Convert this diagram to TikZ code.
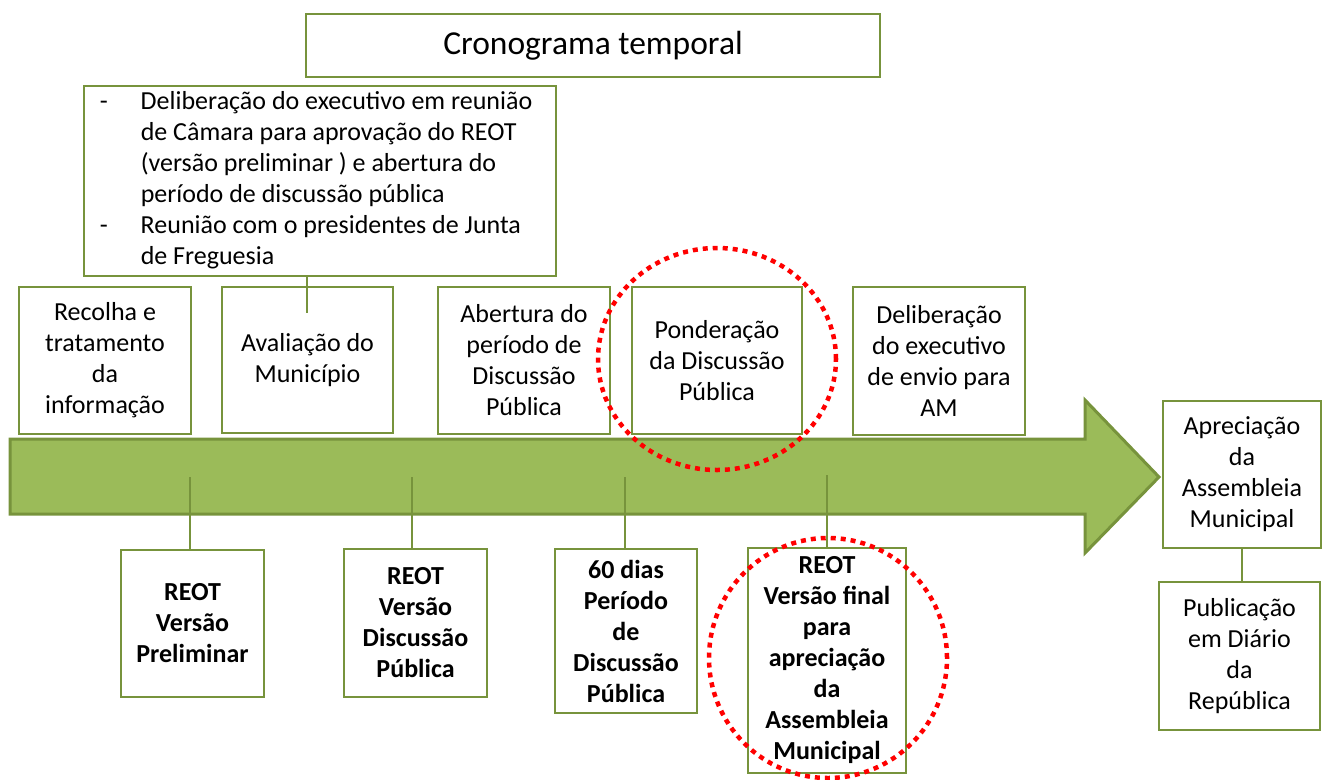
\documentclass[tikz,border=0pt]{standalone}
\usepackage{fontspec}
\setmainfont{Carlito}
\definecolor{gfill}{HTML}{9BBB59}
\definecolor{gline}{HTML}{77933C}
\tikzset{
  box/.style={draw=gline, line width=2.6pt, fill=white, inner sep=0pt, align=center, font=\fontsize{26}{31}\selectfont},
  bbox/.style={box, font=\fontsize{26}{31}\selectfont\bfseries},
  conn/.style={draw=gline, line width=2.6pt},
  reddot/.style={draw=red, line width=4.5pt, dash pattern=on 5pt off 5pt},
}
\begin{document}
\begin{tikzpicture}[x=1pt,y=1pt]
\useasboundingbox (0,0) rectangle (1329,-779);
% main arrow
\draw[draw=gline, fill=gfill, line width=3pt, line join=miter]
  (10,-439) -- (1085,-439) -- (1085,-400) -- (1159,-477) -- (1085,-553) -- (1085,-514) -- (10,-514) -- cycle;
% title
\node[box, font=\fontsize{33.5}{40}\selectfont, minimum width=574pt, minimum height=63pt] (title) at (593,-45.5) {Cronograma temporal};
% top bullet box
\node[box, minimum width=472pt, minimum height=190pt] (top) at (320,-181) {%
\begin{tabular}{@{}p{41pt}@{}l@{}}
-& Deliberação do executivo em reunião\\
 & de Câmara para aprovação do REOT\\
 & (versão preliminar ) e abertura do\\
 & período de discussão pública\\
-& Reunião com o presidentes de Junta\\
 & de Freguesia
\end{tabular}\hspace*{8pt}};
% upper boxes
\node[box, minimum width=172pt, minimum height=147pt] (n1) at (105,-360.5) {Recolha e\\tratamento\\da\\informação};
\node[box, minimum width=171pt, minimum height=146pt] (n2) at (307.5,-360) {Avaliação do\\Município};
\node[box, minimum width=172pt, minimum height=147pt] (n3) at (524,-360.5) {Abertura do\\período de\\Discussão\\Pública};
\node[box, minimum width=170pt, minimum height=147pt] (n4) at (717,-360.5) {Ponderação\\da Discussão\\Pública};
\node[box, minimum width=172pt, minimum height=148pt] (n5) at (939,-361) {Deliberação\\do executivo\\de envio para\\AM};
% connector top box -> Avaliação
\coordinate (avin) at (307,-313);
\draw[conn] (avin |- top.south) -- (avin);
% lower boxes
\node[bbox, minimum width=143pt, minimum height=147pt] (b1) at (192.5,-623.5) {REOT\\Versão\\Preliminar};
\node[bbox, minimum width=143pt, minimum height=148pt] (b2) at (415.5,-623) {REOT\\Versão\\Discussão\\Pública};
\node[bbox, minimum width=142pt, minimum height=164pt] (b3) at (626,-631) {60 dias\\Período\\de\\Discussão\\Pública};
\node[bbox, minimum width=158pt, minimum height=225pt] (b4) at (827,-660.5) {REOT\\Versão final\\para\\apreciação\\da\\Assembleia\\Municipal};
% connectors from arrow
\coordinate (t1) at (190,-477);
\coordinate (t2) at (412,-477);
\coordinate (t3) at (625,-477);
\coordinate (t4) at (827,-475);
\draw[conn] (t1) -- (t1 |- b1.north);
\draw[conn] (t2) -- (t2 |- b2.north);
\draw[conn] (t3) -- (t3 |- b3.north);
\draw[conn] (t4) -- (t4 |- b4.north);
% right boxes
\node[box, minimum width=158pt, minimum height=147pt] (apr) at (1242,-474.5) {Apreciação\\da\\Assembleia\\Municipal};
\node[box, minimum width=161pt, minimum height=148pt] (pub) at (1239.5,-656) {Publicação\\em Diário\\da\\República};
\draw[conn] (apr.south) -- (apr.south |- pub.north);
% red dotted circles
\draw[reddot] (717,-359) ellipse [x radius=119, y radius=111];
\draw[reddot] (828,-658) ellipse [x radius=119, y radius=120];
\end{tikzpicture}
\end{document}
